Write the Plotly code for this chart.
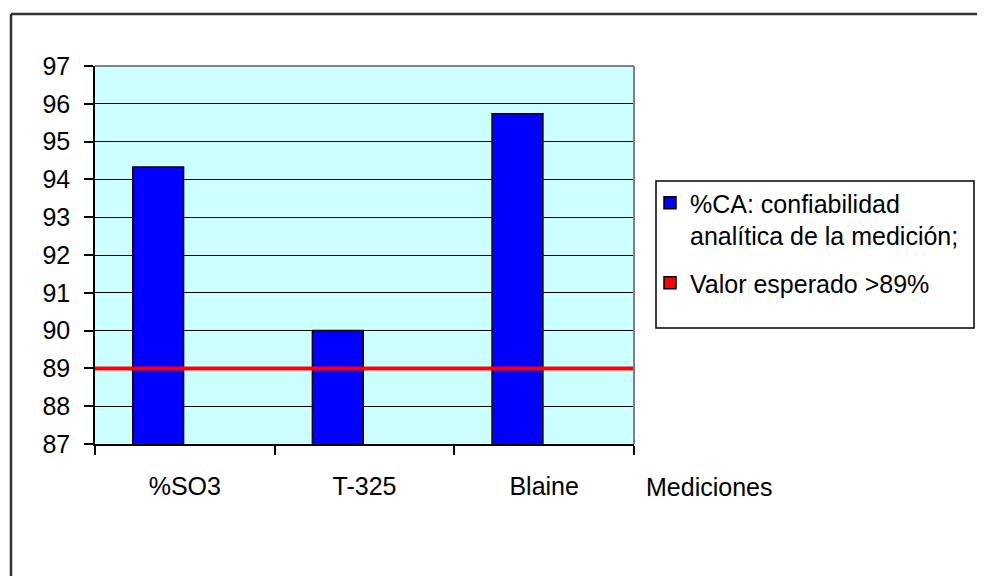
import plotly.graph_objects as go

categories = ["%SO3", "T-325", "Blaine"]
ca_values = [94.33, 90.0, 95.74]
expected_value = 89
series_names = ["%CA: confiabilidad<br>analítica de la medición;", "Valor esperado >89%"]
y_ticks = list(range(87, 98))
x_title = "Mediciones"

OFF = 8  # page body margin
W, H = 977, 568
L, T = 95 - OFF, 66 - OFF
PW, PH = 539, 378
R, B = W - L - PW, H - T - PH


def px(xs):
    return (xs - OFF - L) / PW


def py(ys):
    return (T + PH - (ys - OFF)) / PH


FONT = dict(family="Liberation Sans, Arial, sans-serif", size=25, color="#000000")

fig = go.Figure()
fig.add_trace(go.Bar(
    x=categories, y=ca_values, name=series_names[0],
    width=0.283, offset=-0.29, legendgroup="a",
    marker=dict(color="#0000FF", line=dict(color="#000000", width=1.5)),
    xaxis="x", yaxis="y",
))
# legend entry for expected value (square symbol like the original)
fig.add_trace(go.Bar(
    x=[categories[0]], y=[None], name=series_names[1], legendgroup="b",
    marker=dict(color="#FF0000", line=dict(color="#000000", width=1.5)),
    xaxis="x", yaxis="y",
))
fig.add_trace(go.Scatter(
    x=[0, 1], y=[expected_value, expected_value], mode="lines",
    line=dict(color="#FF0000", width=4), showlegend=False,
    xaxis="x2", yaxis="y", hoverinfo="skip",
))

fig.update_layout(
    width=W, height=H,
    margin=dict(l=L, r=R, t=T, b=B, pad=0),
    paper_bgcolor="#FFFFFF",
    plot_bgcolor="#CCFFFF",
    barmode="overlay",
    font=FONT,
    showlegend=True,
    legend=dict(
        x=px(650), y=py(180), xanchor="left", yanchor="top",
        bgcolor="rgba(0,0,0,0)", borderwidth=0,
        font=FONT, tracegroupgap=12, valign="top",
        traceorder="grouped",
    ),
    xaxis=dict(
        type="category", range=[-0.5, 2.5],
        showgrid=False, showline=True, linecolor="#000000", linewidth=1.5,
        ticks="outside", tickson="boundaries", ticklen=9, tickcolor="#000000", tickwidth=1.5,
        tickfont=FONT, ticklabelstandoff=19, zeroline=False, fixedrange=True,
    ),
    xaxis2=dict(
        overlaying="x", range=[0, 1], visible=False, fixedrange=True,
    ),
    yaxis=dict(
        range=[87, 97], tickvals=y_ticks, showgrid=True, gridcolor="#000000", gridwidth=1,
        showline=True, linecolor="#000000", linewidth=1.5,
        ticks="outside", ticklen=9, tickcolor="#000000", tickwidth=1.5,
        tickfont=FONT, ticklabelstandoff=9, zeroline=False, fixedrange=True,
    ),
    shapes=[
        # plot area top/right border (gray)
        dict(type="line", xref="paper", yref="paper", x0=0, x1=1, y0=1, y1=1,
             line=dict(color="#808080", width=2)),
        dict(type="line", xref="paper", yref="paper", x0=1, x1=1, y0=0, y1=1,
             line=dict(color="#808080", width=2)),
        # legend box
        dict(type="rect", xref="paper", yref="paper",
             x0=px(656), x1=px(974), y0=py(328), y1=py(181),
             line=dict(color="#000000", width=1.5)),
        # outer chart border (top and left)
        dict(type="line", xref="paper", yref="paper",
             x0=px(11), x1=px(990), y0=py(14), y1=py(14),
             line=dict(color="#333333", width=2.5)),
        dict(type="line", xref="paper", yref="paper",
             x0=px(11), x1=px(11), y0=py(14), y1=py(580),
             line=dict(color="#333333", width=2.5)),
    ],
    annotations=[
        dict(text=x_title, xref="paper", yref="paper", x=px(644), y=py(487),
             xanchor="left", yanchor="middle", showarrow=False, font=FONT),
    ],
)

fig.write_html("out.html")
